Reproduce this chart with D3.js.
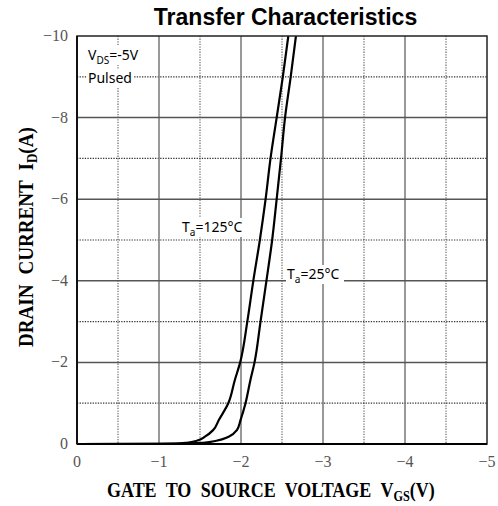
<!DOCTYPE html>
<html>
<head>
<meta charset="utf-8">
<script src="https://cdn.jsdelivr.net/npm/d3@7"></script>
<style>
  html, body { margin: 0; padding: 0; background: #fff; }
  svg { display: block; }
</style>
</head>
<body>
<svg id="chart" width="498" height="506"></svg>
<script>
// Drain current vs gate-source voltage (V_DS = -5 V, pulsed)
const vgs125 = [0, -1.0, -1.25, -1.34, -1.46, -1.56, -1.66, -1.73, -1.845, -1.925, -1.99, -2.077, -2.15, -2.23, -2.30, -2.36, -2.435, -2.51, -2.577];
const id125  = [0, -0.005, -0.015, -0.03, -0.08, -0.18, -0.34, -0.59, -1, -1.57, -2, -3, -4, -5, -6, -7, -8, -9, -10];
const vgs25  = [0, -1.0, -1.37, -1.54, -1.70, -1.85, -1.95, -1.995, -2.055, -2.115, -2.165, -2.238, -2.31, -2.38, -2.435, -2.488, -2.537, -2.606, -2.67];
const id25   = [0, -0.003, -0.01, -0.03, -0.08, -0.18, -0.34, -0.59, -1, -1.57, -2, -3, -4, -5, -6, -7, -8, -9, -10];

const xTicks = [0, -1, -2, -3, -4, -5];
const xMinor = [-0.5, -1.5, -2.5, -3.5, -4.5];
const yTicks = [0, -2, -4, -6, -8, -10];
const yMinor = [-1, -3, -5, -7, -9];

const svg = d3.select("#chart");
const L = 77, R = 487, T = 36, B = 444;

const x = d3.scaleLinear().domain([0, -5]).range([L, R]);
const y = d3.scaleLinear().domain([0, -10]).range([B, T]);

// title
svg.append("text")
  .attr("x", 285.5).attr("y", 25)
  .attr("text-anchor", "middle")
  .attr("font-family", "Liberation Sans, Arial, sans-serif")
  .attr("font-weight", "bold")
  .attr("font-size", 23)
  .text("Transfer Characteristics");

const grid = svg.append("g");
// minor dotted grid
grid.selectAll(".vminor").data(xMinor).join("line")
  .attr("x1", d => x(d)).attr("x2", d => x(d))
  .attr("y1", T).attr("y2", B)
  .attr("stroke", "#777").attr("stroke-width", 1.3).attr("stroke-dasharray", "1.3,1.3");
grid.selectAll(".hminor").data(yMinor).join("line")
  .attr("x1", L).attr("x2", R)
  .attr("y1", d => y(d)).attr("y2", d => y(d))
  .attr("stroke", "#333").attr("stroke-width", 1.2).attr("stroke-dasharray", "1.3,1.3");
// major solid grid
grid.selectAll(".vmajor").data(xTicks.filter(d => d !== 0 && d !== -5)).join("line")
  .attr("x1", d => x(d)).attr("x2", d => x(d))
  .attr("y1", T).attr("y2", B)
  .attr("stroke", "#777").attr("stroke-width", 1.5);
grid.selectAll(".hmajor").data(yTicks.filter(d => d !== 0 && d !== -10)).join("line")
  .attr("x1", L).attr("x2", R)
  .attr("y1", d => y(d)).attr("y2", d => y(d))
  .attr("stroke", "#555").attr("stroke-width", 1.5);

// annotations with white backing
function label(xp, yp, parts, w) {
  const g = svg.append("g");
  g.append("rect").attr("x", xp - 1).attr("y", yp - 14).attr("width", w).attr("height", 19).attr("fill", "#fff");
  const t = g.append("text").attr("x", xp).attr("y", yp)
    .attr("font-family", "Noto Sans, Open Sans, sans-serif")
    .attr("font-size", 14).attr("fill", "#000");
  parts.forEach(p => {
    const s = t.append("tspan").text(p.t);
    if (p.sub) s.attr("dy", 4).attr("font-size", 10);
    if (p.up) s.attr("dy", -4);
  });
}
label(88, 60, [{t: "V"}, {t: "DS", sub: true}, {t: "=-5V", up: true}], 60);
label(88, 83, [{t: "Pulsed"}], 46);
label(182, 232, [{t: "T"}, {t: "a", sub: true}, {t: "=125\u00B0C", up: true}], 66);
label(287, 279, [{t: "T"}, {t: "a", sub: true}, {t: "=25\u00B0C", up: true}], 58);

// curves: V_GS treated as a monotone function of I_D, drawn top to bottom
const clip = svg.append("clipPath").attr("id", "plotclip");
clip.append("rect").attr("x", L).attr("y", T).attr("width", R - L).attr("height", B - T);

const line = d3.line()
  .x(d => x(d[0])).y(d => y(d[1]))
  .curve(d3.curveMonotoneY);

const curves = svg.append("g").attr("clip-path", "url(#plotclip)");
[[vgs125, id125], [vgs25, id25]].forEach(([vs, is]) => {
  const pts = vs.map((v, i) => [v, is[i]]).reverse();
  curves.append("path")
    .datum(pts)
    .attr("d", line)
    .attr("fill", "none")
    .attr("stroke", "#000")
    .attr("stroke-width", 2.2);
});

// frame
svg.append("rect")
  .attr("x", L).attr("y", T).attr("width", R - L).attr("height", B - T)
  .attr("fill", "none").attr("stroke", "#222").attr("stroke-width", 1.5);
svg.append("line")
  .attr("x1", L).attr("x2", R).attr("y1", B).attr("y2", B)
  .attr("stroke", "#000").attr("stroke-width", 2);
svg.append("line")
  .attr("x1", L).attr("x2", L).attr("y1", T).attr("y2", B)
  .attr("stroke", "#111").attr("stroke-width", 2);

// tick labels
const fmt = d => d === 0 ? "0" : "\u2212" + Math.abs(d);
svg.selectAll(".xt").data(xTicks).join("text")
  .attr("x", d => x(d)).attr("y", 467)
  .attr("text-anchor", "middle")
  .attr("font-family", "Liberation Serif, Times New Roman, serif")
  .attr("font-size", 16).attr("fill", "#555")
  .text(fmt);
svg.selectAll(".yt").data(yTicks).join("text")
  .attr("x", 68).attr("y", d => y(d) + 5)
  .attr("text-anchor", "end")
  .attr("font-family", "Liberation Serif, Times New Roman, serif")
  .attr("font-size", 16).attr("fill", "#555")
  .text(fmt);

// axis titles: condensed bold serif, stretched to a fixed span
function axisTitle(parent, main, sub, tail, span) {
  const t = parent.append("text")
    .attr("font-family", "Liberation Serif, Times New Roman, serif")
    .attr("font-weight", "bold")
    .attr("font-size", 22)
    .attr("word-spacing", 6);
  t.append("tspan").text(main);
  t.append("tspan").attr("dy", 4).attr("font-size", 15).text(sub);
  t.append("tspan").attr("dy", -4).text(tail);
  const w = t.node().getBBox().width;
  t.attr("transform", `scale(${span / w},1)`);
  return t;
}
const xg = svg.append("g").attr("transform", "translate(107,497)");
axisTitle(xg, "GATE TO SOURCE VOLTAGE V", "GS", "(V)", 328);

const yg = svg.append("g").attr("transform", "translate(33,347) rotate(-90)");
axisTitle(yg, "DRAIN CURRENT I", "D", "(A)", 220);
</script>
</body>
</html>
